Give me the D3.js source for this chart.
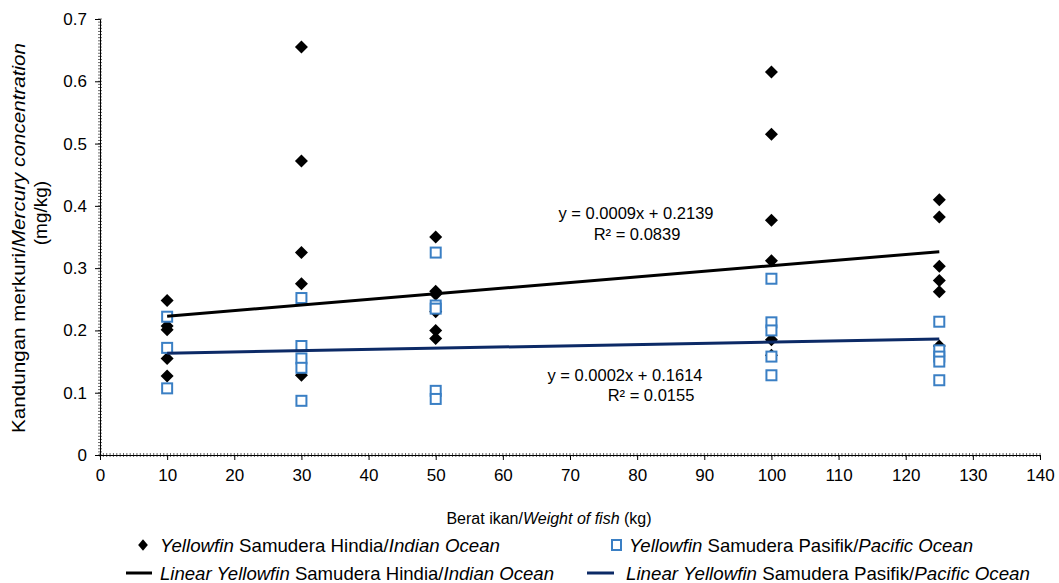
<!DOCTYPE html>
<html>
<head>
<meta charset="utf-8">
<script src="https://cdn.jsdelivr.net/npm/d3@7"></script>
<style>
  body { margin: 0; background: #fff; }
  svg { font-family: "Liberation Sans", Arial, sans-serif; }
</style>
</head>
<body>
<svg id="chart" width="1059" height="583"></svg>
<script>
// fish weight groups (kg)
const weights = [10, 30, 50, 100, 125];
// mercury concentration (mg/kg) per weight group
const indianValues = [
  [0.248, 0.207, 0.201, 0.155, 0.127],
  [0.655, 0.472, 0.325, 0.275, 0.128],
  [0.350, 0.263, 0.258, 0.230, 0.200, 0.187],
  [0.615, 0.515, 0.377, 0.312, 0.185, 0.160],
  [0.410, 0.382, 0.303, 0.280, 0.262, 0.175]
];
const pacificValues = [
  [0.222, 0.172, 0.107],
  [0.252, 0.175, 0.155, 0.140, 0.087],
  [0.325, 0.240, 0.235, 0.103, 0.090],
  [0.283, 0.213, 0.200, 0.158, 0.128],
  [0.214, 0.168, 0.158, 0.150, 0.120]
];
// linear trend: slope, intercept
const indianTrend = [0.0009, 0.2139];
const pacificTrend = [0.0002, 0.1614];
const xTicks = d3.range(0, 141, 10);
const yTicks = [0, 0.1, 0.2, 0.3, 0.4, 0.5, 0.6, 0.7];

const svg = d3.select('#chart');
const x = d3.scaleLinear().domain([0, 140]).range([100, 1040]);
const y = d3.scaleLinear().domain([0, 0.7]).range([455, 19]);

const flat = (vals) => weights.flatMap((w, i) => vals[i].map(v => ({ w: w, v: v })));
const diamondPath = 'M0,-6.5L6.5,0L0,6.5L-6.5,0Z';

// minor ticks
svg.append('g').selectAll('line').data(d3.range(0, 140.01, 0.5)).enter().append('line')
  .attr('x1', d => x(d)).attr('x2', d => x(d))
  .attr('y1', 453).attr('y2', 457)
  .attr('stroke', '#444').attr('stroke-width', 0.8);
svg.append('g').selectAll('line').data(d3.range(0, 0.7001, 0.005)).enter().append('line')
  .attr('y1', d => y(d)).attr('y2', d => y(d))
  .attr('x1', 98).attr('x2', 102)
  .attr('stroke', '#444').attr('stroke-width', 0.8);

// axes
const xAxis = svg.append('g').attr('transform', 'translate(0,455)')
  .call(d3.axisBottom(x).tickValues(xTicks).tickSize(5).tickPadding(9).tickFormat(d3.format('d')));
const yAxis = svg.append('g').attr('transform', 'translate(100,0)')
  .call(d3.axisLeft(y).tickValues(yTicks).tickSize(5).tickPadding(8).tickFormat(d => d === 0 ? '0' : d3.format('.1f')(d)));
[xAxis, yAxis].forEach(a => {
  a.selectAll('path').attr('stroke', '#000').attr('stroke-width', 1);
  a.selectAll('line').attr('stroke', '#000');
  a.selectAll('text').attr('font-size', 17).attr('fill', '#000').attr('font-family', '"Liberation Sans", Arial, sans-serif');
});

// diamonds (Indian Ocean)
svg.append('g').selectAll('path').data(flat(indianValues)).enter().append('path')
  .attr('d', diamondPath)
  .attr('transform', d => `translate(${x(d.w)},${y(d.v)})`)
  .attr('fill', '#000');

// squares (Pacific Ocean)
svg.append('g').selectAll('rect').data(flat(pacificValues)).enter().append('rect')
  .attr('x', d => x(d.w) - 5).attr('y', d => y(d.v) - 5)
  .attr('width', 10).attr('height', 10)
  .attr('fill', '#fff').attr('stroke', '#3a7fc4').attr('stroke-width', 2);

// trendlines
const trendLine = (t, color) => {
  svg.append('line')
    .attr('x1', x(10)).attr('y1', y(t[0] * 10 + t[1]))
    .attr('x2', x(125)).attr('y2', y(t[0] * 125 + t[1]))
    .attr('stroke', color).attr('stroke-width', 3);
};
trendLine(indianTrend, '#000');
trendLine(pacificTrend, '#0c2a66');

// equations
const eq = svg.append('g').attr('font-size', 16.5).attr('fill', '#000').attr('text-anchor', 'middle');
eq.append('text').attr('x', 636).attr('y', 219).text('y = 0.0009x + 0.2139');
eq.append('text').attr('x', 637).attr('y', 240).text('R² = 0.0839');
eq.append('text').attr('x', 625).attr('y', 381).text('y = 0.0002x + 0.1614');
eq.append('text').attr('x', 651).attr('y', 401).text('R² = 0.0155');

// axis titles
svg.append('text').attr('x', 549).attr('y', 524).attr('font-size', 16).attr('text-anchor', 'middle')
  .html('Berat ikan/<tspan font-style="italic">Weight of fish</tspan> (kg)');
const yt = svg.append('g').attr('font-size', 19).attr('text-anchor', 'middle');
yt.append('text').attr('transform', 'translate(25,238) rotate(-90)')
  .attr('textLength', 390).attr('lengthAdjust', 'spacingAndGlyphs')
  .html('Kandungan merkuri/<tspan font-style="italic">Mercury concentration</tspan>');
yt.append('text').attr('transform', 'translate(47,213) rotate(-90)').text('(mg/kg)');

// legend
const lg = svg.append('g').attr('font-size', 19);
lg.append('path').attr('d', diamondPath).attr('transform', 'translate(143,545) scale(0.75,0.9)').attr('fill', '#000');
lg.append('text').attr('x', 160).attr('y', 552).attr('textLength', 340).attr('lengthAdjust', 'spacingAndGlyphs')
  .html('<tspan font-style="italic">Yellowfin</tspan> Samudera Hindia/<tspan font-style="italic">Indian Ocean</tspan>');
lg.append('rect').attr('x', 612).attr('y', 540).attr('width', 9).attr('height', 10)
  .attr('fill', '#fff').attr('stroke', '#3a7fc4').attr('stroke-width', 2);
lg.append('text').attr('x', 629).attr('y', 552).attr('textLength', 344).attr('lengthAdjust', 'spacingAndGlyphs')
  .html('<tspan font-style="italic">Yellowfin</tspan> Samudera Pasifik/<tspan font-style="italic">Pacific Ocean</tspan>');
lg.append('line').attr('x1', 126).attr('x2', 152).attr('y1', 573).attr('y2', 573).attr('stroke', '#000').attr('stroke-width', 3);
lg.append('text').attr('x', 160).attr('y', 580).attr('textLength', 394).attr('lengthAdjust', 'spacingAndGlyphs')
  .html('<tspan font-style="italic">Linear Yellowfin</tspan> Samudera Hindia/<tspan font-style="italic">Indian Ocean</tspan>');
lg.append('line').attr('x1', 587).attr('x2', 614).attr('y1', 573).attr('y2', 573).attr('stroke', '#0c2a66').attr('stroke-width', 3);
lg.append('text').attr('x', 626).attr('y', 580).attr('textLength', 404).attr('lengthAdjust', 'spacingAndGlyphs')
  .html('<tspan font-style="italic">Linear Yellowfin</tspan> Samudera Pasifik/<tspan font-style="italic">Pacific Ocean</tspan>');
</script>
</body>
</html>
